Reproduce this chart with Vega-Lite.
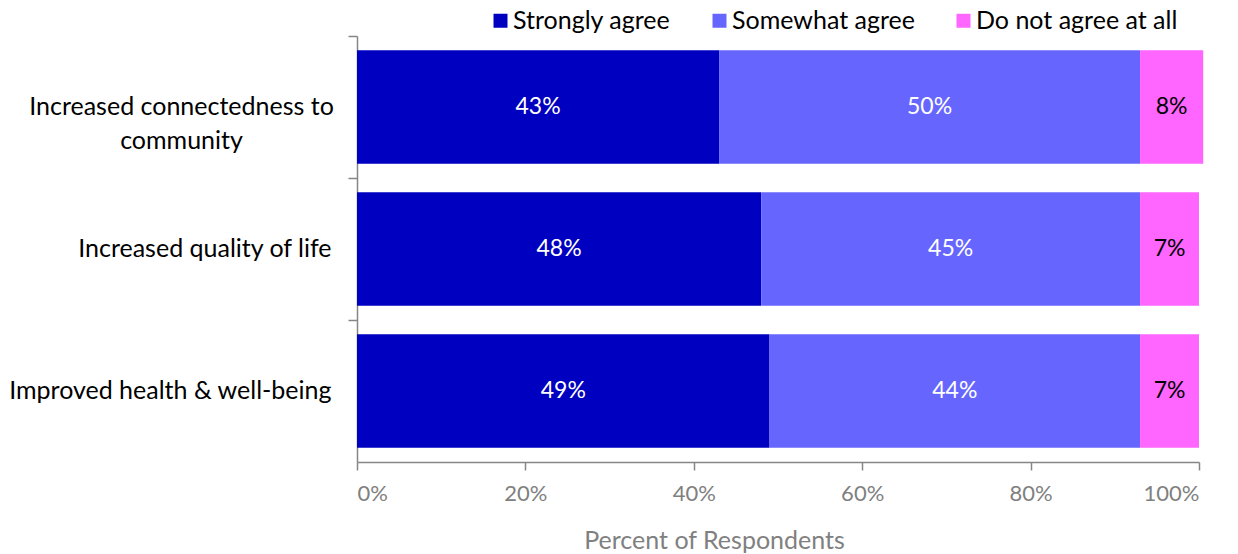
{
  "$schema": "https://vega.github.io/schema/vega-lite/v6.json",
  "width": 842,
  "height": 426,
  "autosize": "none",
  "padding": {"left": 357, "top": 36, "right": 39, "bottom": 92},
  "background": "white",
  "config": {"font": "Lato", "view": {"stroke": null}},
  "data": {
    "values": [
      {"item": "Increased connectedness to community", "response": "Strongly agree", "ord": 1, "value": 43},
      {"item": "Increased connectedness to community", "response": "Somewhat agree", "ord": 2, "value": 50},
      {"item": "Increased connectedness to community", "response": "Do not agree at all", "ord": 3, "value": 7.5},
      {"item": "Increased quality of life", "response": "Strongly agree", "ord": 1, "value": 48},
      {"item": "Increased quality of life", "response": "Somewhat agree", "ord": 2, "value": 45},
      {"item": "Increased quality of life", "response": "Do not agree at all", "ord": 3, "value": 7},
      {"item": "Improved health & well-being", "response": "Strongly agree", "ord": 1, "value": 49},
      {"item": "Improved health & well-being", "response": "Somewhat agree", "ord": 2, "value": 44},
      {"item": "Improved health & well-being", "response": "Do not agree at all", "ord": 3, "value": 7}
    ]
  },
  "encoding": {
    "y": {
      "field": "item",
      "type": "nominal",
      "sort": ["Increased connectedness to community", "Increased quality of life", "Improved health & well-being"],
      "scale": {"paddingInner": 0.2, "paddingOuter": 0.1},
      "axis": {
        "title": null,
        "bandPosition": -0.125,
        "tickSize": 9,
        "tickColor": "#868686",
        "tickWidth": 1.5,
        "domainColor": "#868686",
        "domainWidth": 1.5,
        "labelColor": "#000000",
        "labelFontSize": 25,
        "labelLineHeight": 34,
        "labelExpr": "datum.label == 'Increased connectedness to community' ? ['Increased connectedness to', 'community'] : datum.label",
        "labelAlign": {"condition": {"test": "datum.label == 'Increased connectedness to community'", "value": "center"}, "value": "right"},
        "labelPadding": {"condition": {"test": "datum.label == 'Increased connectedness to community'", "value": 167}, "value": 17},
        "labelLimit": 400
      }
    }
  },
  "layer": [
    {
      "mark": {"type": "bar"},
      "encoding": {
        "x": {
          "field": "value",
          "type": "quantitative",
          "stack": "zero",
          "scale": {"domain": [0, 100]},
          "axis": {
            "title": "Percent of Respondents",
            "values": [0, 20, 40, 60, 80, 100],
            "labelExpr": "datum.value + '%'",
            "grid": false,
            "tickSize": 8,
            "tickColor": "#868686",
            "tickWidth": 1.5,
            "domainColor": "#868686",
            "domainWidth": 1.5,
            "labelColor": "#808080",
            "labelFontSize": 22,
            "labelPadding": 13,
            "titleColor": "#808080",
            "titleFontSize": 25,
            "titleFontWeight": "normal",
            "titleX": 357,
            "titleY": 78,
            "titleBaseline": "middle"
          }
        },
        "color": {
          "field": "response",
          "type": "nominal",
          "scale": {
            "domain": ["Strongly agree", "Somewhat agree", "Do not agree at all"],
            "range": ["#0000C0", "#6666FF", "#FF66FF"]
          },
          "legend": {
            "title": null,
            "orient": "none",
            "direction": "horizontal",
            "legendX": 131,
            "legendY": -28,
            "symbolType": "square",
            "symbolSize": 196,
            "symbolStrokeWidth": 0,
            "labelFontSize": 25,
            "labelColor": "#000000",
            "labelOffset": 0,
            "labelLimit": 400,
            "columnPadding": 36
          }
        },
        "order": {"field": "ord", "type": "quantitative"}
      }
    },
    {
      "mark": {"type": "text", "fontSize": 23, "text": {"expr": "format(datum.value, '.0f') + '%'"}},
      "encoding": {
        "x": {"field": "value", "type": "quantitative", "stack": "zero", "bandPosition": 0.5},
        "order": {"field": "ord", "type": "quantitative"},
        "detail": {"field": "response"},
        "color": {
          "condition": {"test": "datum.response == 'Do not agree at all'", "value": "#000000"},
          "value": "#FFFFFF"
        }
      }
    }
  ]
}
